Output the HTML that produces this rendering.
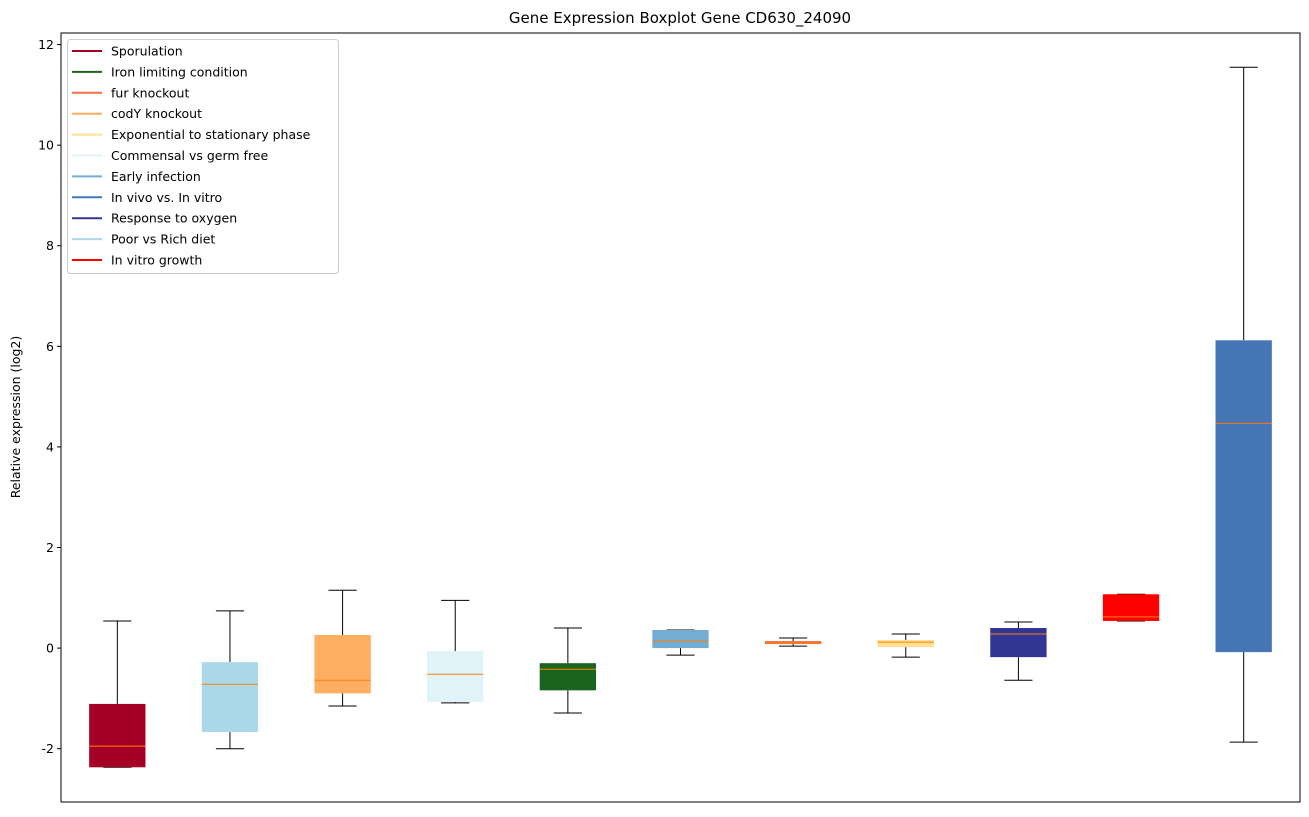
<!DOCTYPE html>
<html><head><meta charset="utf-8"><style>
body{margin:0;background:#fff;font-family:"Liberation Sans","DejaVu Sans",sans-serif;}
svg text{font-family:"DejaVu Sans","Liberation Sans",sans-serif;}
</style></head><body>
<svg id="chart" width="1309" height="812" xmlns="http://www.w3.org/2000/svg">
<rect width="1309" height="812" fill="#fff"/>
<text x="680" y="23" font-size="15" text-anchor="middle">Gene Expression Boxplot Gene CD630_24090</text>
<text transform="translate(20,417) rotate(-90)" font-size="12.5" text-anchor="middle">Relative expression (log2)</text>
<g id="plot"></g>
<g id="legend"></g>
</svg>
<script>
const categories=["Sporulation","Poor vs Rich diet","codY knockout","Commensal vs germ free","Iron limiting condition","Early infection","fur knockout","Exponential to stationary phase","Response to oxygen","In vitro growth","In vivo vs. In vitro"];
const colors=["#a50026","#abd9e9","#fdae61","#e0f3f8","#1a6420","#74add1","#f46d43","#fee090","#313695","#ff0000","#4575b4"];
const whiskerLow=[-2.37,-2.0,-1.15,-1.09,-1.29,-0.14,0.04,-0.18,-0.64,0.54,-1.87];
const q1=[-2.37,-1.67,-0.9,-1.07,-0.84,0.0,0.08,0.02,-0.18,0.54,-0.08];
const median=[-1.95,-0.72,-0.64,-0.52,-0.42,0.14,0.1,0.12,0.28,0.62,4.47];
const q3=[-1.11,-0.28,0.26,-0.06,-0.3,0.36,0.14,0.16,0.4,1.07,6.12];
const whiskerHigh=[0.54,0.74,1.15,0.95,0.4,0.36,0.2,0.28,0.52,1.07,11.55];
const yTicks=[-2,0,2,4,6,8,10,12];
const legendLabels=["Sporulation","Iron limiting condition","fur knockout","codY knockout","Exponential to stationary phase","Commensal vs germ free","Early infection","In vivo vs. In vitro","Response to oxygen","Poor vs Rich diet","In vitro growth"];
const legendColors=["#a50026","#1a6420","#f46d43","#fdae61","#fee090","#e0f3f8","#74add1","#4575b4","#313695","#abd9e9","#ff0000"];

const L=61,R=1300,T=33,B=802,ymin=-3.06,ymax=12.23;
const sx=p=>L+(p-0.5)/11*(R-L);
const sy=v=>B-(v-ymin)/(ymax-ymin)*(B-T);
const NS="http://www.w3.org/2000/svg";
function mk(tag,attrs,parent){const e=document.createElementNS(NS,tag);for(const k in attrs)e.setAttribute(k,attrs[k]);parent.appendChild(e);return e;}
const plot=document.getElementById('plot');
const hw=0.25/11*(R-L), cw=0.125/11*(R-L);
categories.forEach((c,i)=>{
  const x=sx(i+1);
  const g=mk('g',{},plot);
  
  
  mk('line',{x1:x,x2:x,y1:sy(whiskerHigh[i]),y2:sy(q3[i]),stroke:'#000'},g);
  mk('line',{x1:x,x2:x,y1:sy(q1[i]),y2:sy(whiskerLow[i]),stroke:'#000'},g);
  mk('line',{x1:x-cw,x2:x+cw,y1:sy(whiskerHigh[i]),y2:sy(whiskerHigh[i]),stroke:'#000'},g);
  mk('line',{x1:x-cw,x2:x+cw,y1:sy(whiskerLow[i]),y2:sy(whiskerLow[i]),stroke:'#000'},g);
  mk('rect',{x:x-hw,y:sy(q3[i]),width:2*hw,height:Math.max(1,sy(q1[i])-sy(q3[i])),fill:colors[i]},g);
  mk('line',{x1:x-hw,x2:x+hw,y1:sy(median[i]),y2:sy(median[i]),stroke:'#ff7f0e'},g);
});
yTicks.forEach(t=>{
  const y=sy(t);
  mk('line',{x1:L-4,x2:L,y1:y,y2:y,stroke:'#000'},plot);
  const tx=mk('text',{x:L-7,y:y+4.5,'font-size':12.5,'text-anchor':'end'},plot);
  tx.textContent=t;
  
  
});
const fr=mk('rect',{x:L,y:T,width:R-L,height:B-T,fill:'none',stroke:'#000'},plot);


const lg=document.getElementById('legend');


mk('rect',{x:67.5,y:39.5,width:271,height:234,rx:3,fill:'#fff','fill-opacity':0.8,stroke:'#ccc'},lg);
legendLabels.forEach((l,i)=>{
  const y=51+i*20.9;
  const g=mk('g',{},lg);
  
  
  mk('line',{x1:72,x2:102,y1:y,y2:y,stroke:legendColors[i],'stroke-width':2},g);
  const t=mk('text',{x:111,y:y+4.5,'font-size':12.5},g);
  t.textContent=l;
});
</script>
</body></html>
